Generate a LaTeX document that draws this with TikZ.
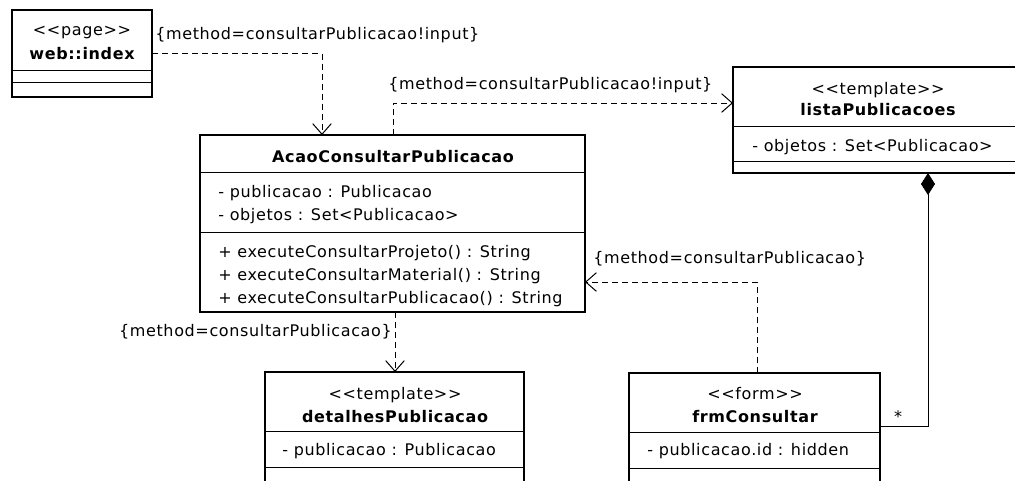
\documentclass[tikz,border=0pt]{standalone}
\usepackage{fontspec}
\setmainfont{DejaVu Sans}[LetterSpace=4]
\usetikzlibrary{arrows.meta}
\begin{document}
\begin{tikzpicture}[x=0.75pt,y=-0.75pt,
  umlbox/.style={draw, line width=1.5pt, inner sep=0pt, outer sep=0pt, anchor=north west, fill=white},
  sepline/.style={line width=0.75pt},
  txt/.style={inner sep=0pt, anchor=base, font=\fontsize{12pt}{14pt}\selectfont},
  ttl/.style={txt, font=\fontsize{12pt}{14pt}\selectfont\bfseries},
  attr/.style={txt, anchor=base west},
  lbl/.style={txt, anchor=base west},
  dep/.style={line width=0.75pt, dash pattern=on 4.5pt off 3pt, -{Straight Barb[length=8pt,width=14pt,line width=0.75pt]}},
  comp/.style={line width=0.75pt, {Diamond[length=16.5pt,width=10.5pt]}-}
]
\useasboundingbox (0,0) rectangle (1015,480);
\clip (0,0) rectangle (1015,480);

% boxes
\node[umlbox, minimum width=105pt, minimum height=65.25pt] (web) at (12,10) {};
\node[umlbox, minimum width=288.75pt, minimum height=132.75pt] (acao) at (200,135) {};
\node[umlbox, minimum width=217.5pt, minimum height=79.5pt] (lista) at (733,67) {};
\node[umlbox, minimum width=194.25pt, minimum height=97.5pt] (det) at (265,372) {};
\node[umlbox, minimum width=188.25pt, minimum height=97.5pt] (frm) at (629,373) {};

% web::index
\node[txt] (webst) at (82,35) {<{}<page>{}>};
\node[ttl] (webti) at (82,59) {web::index};
\draw[sepline] (web.west |- 0,70) -- (web.east |- 0,70);
\draw[sepline] (web.west |- 0,82) -- (web.east |- 0,82);

% AcaoConsultarPublicacao
\node[ttl] (acaoti) at (393,162) {AcaoConsultarPublicacao};
\draw[sepline] (acao.west |- 0,172) -- (acao.east |- 0,172);
\node[attr] (acaoa1) at (218,197) {- publicacao : Publicacao};
\node[attr] (acaoa2) at (218,220) {- objetos : Set<Publicacao>};
\draw[sepline] (acao.west |- 0,232) -- (acao.east |- 0,232);
\node[attr] (acaom1) at (218,257) {+ executeConsultarProjeto() : String};
\node[attr] (acaom2) at (218,280) {+ executeConsultarMaterial() : String};
\node[attr] (acaom3) at (218,303) {+ executeConsultarPublicacao() : String};

% listaPublicacoes
\node[txt] (listast) at (878,94) {<{}<template>{}>};
\node[ttl] (listati) at (878,115) {listaPublicacoes};
\draw[sepline] (lista.west |- 0,126) -- (lista.east |- 0,126);
\node[attr] (listaa1) at (752,151) {- objetos : Set<Publicacao>};
\draw[sepline] (lista.west |- 0,161) -- (lista.east |- 0,161);

% detalhesPublicacao
\node[txt] (detst) at (395,399) {<{}<template>{}>};
\node[ttl] (detti) at (395,422) {detalhesPublicacao};
\draw[sepline] (det.west |- 0,431) -- (det.east |- 0,431);
\node[attr] (deta1) at (282,455) {- publicacao : Publicacao};
\draw[sepline] (det.west |- 0,467) -- (det.east |- 0,467);

% frmConsultar
\node[txt] (frmst) at (755,399) {<{}<form>{}>};
\node[ttl] (frmti) at (755,422) {frmConsultar};
\draw[sepline] (frm.west |- 0,432) -- (frm.east |- 0,432);
\node[attr] (frma1) at (647,455) {- publicacao.id : hidden};
\draw[sepline] (frm.west |- 0,468) -- (frm.east |- 0,468);

% connectors
\draw[dep] (web.east) -| (322,0 |- acao.north);
\node[lbl] (l1) at (155,39) {\{method=consultarPublicacao!input\}};

\draw[dep] (acao.north -| 393,0) |- (lista.west |- 0,103);
\node[lbl] (l2) at (388,89) {\{method=consultarPublicacao!input\}};

\draw[dep] (frm.north -| 757,0) |- (acao.east |- 0,282);
\node[lbl] (l3) at (593,263) {\{method=consultarPublicacao\}};

\draw[dep] (acao.south -| 395,0) -- (det.north -| 395,0);
\node[lbl, anchor=base east] (l4) at (392,336) {\{method=consultarPublicacao\}};

\draw[comp] (lista.south -| 928,0) |- (frm.east |- 0,426);
\node[txt] (mult) at (898,422) {*};
\end{tikzpicture}
\end{document}
